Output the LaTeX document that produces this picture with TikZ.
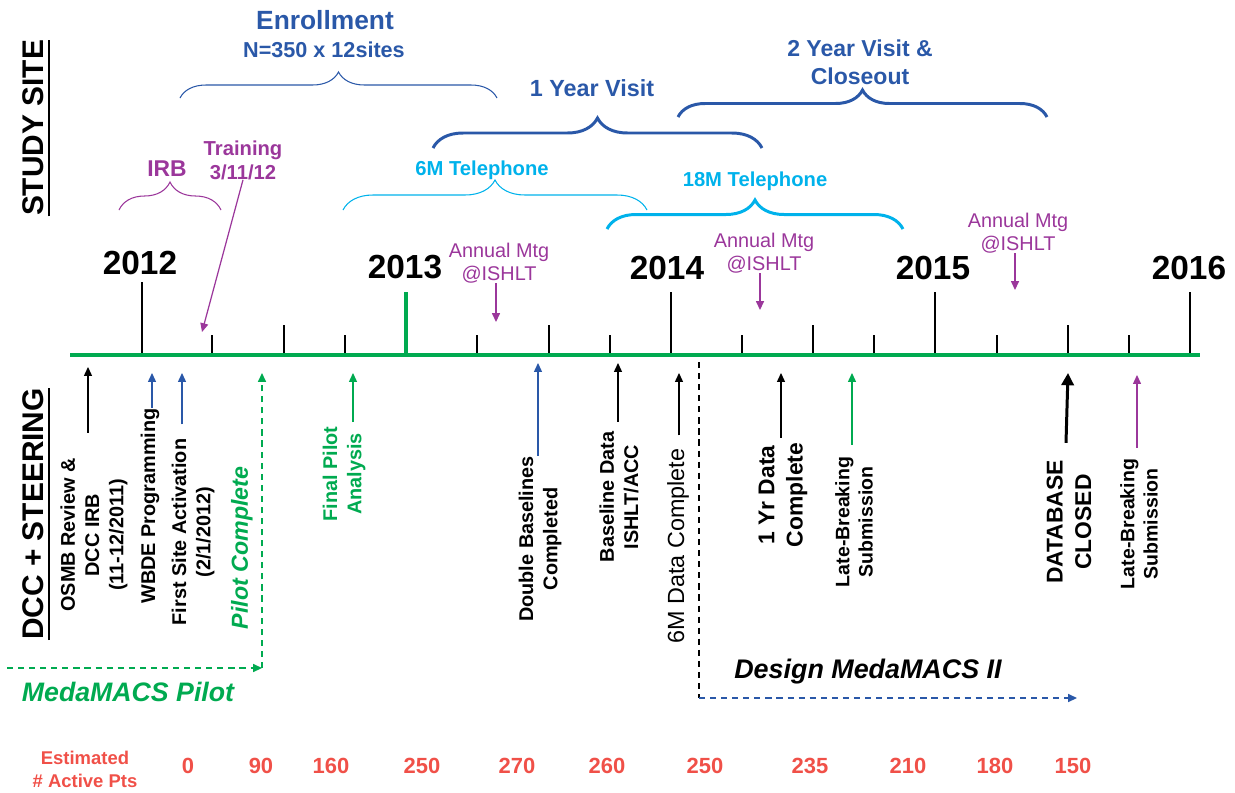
\documentclass[tikz,border=0pt]{standalone}
\usepackage{fontspec}
\setmainfont{Liberation Sans}
\usetikzlibrary{calc}
\usetikzlibrary{arrows.meta}
\usetikzlibrary{decorations.pathreplacing}
\definecolor{tgreen}{RGB}{0,170,80}
\definecolor{dblue}{RGB}{42,88,168}
\definecolor{tcyan}{RGB}{0,178,235}
\definecolor{tpurple}{RGB}{155,55,155}
\definecolor{tred}{RGB}{240,80,72}
\newcommand{\fsz}[2]{\fontsize{#1}{#2}\selectfont}
\tikzstyle{txt}=[inner sep=0pt,align=center]
\tikzstyle{yearlab}=[txt,font=\fsz{19}{22}\bfseries]
\tikzstyle{sidetitle}=[txt,rotate=90,font=\fsz{17}{20}\bfseries]
\tikzstyle{vlab}=[txt,rotate=90,font=\fsz{11.3}{13.8}\bfseries]
\tikzstyle{vbig}=[txt,rotate=90,font=\fsz{13}{16.2}\bfseries]
\tikzstyle{mtg}=[txt,tpurple,font=\fsz{11.3}{13}]
\tikzstyle{phase}=[txt,font=\fsz{11.5}{13.6}\bfseries]
\tikzstyle{ptsnum}=[txt,tred,font=\fsz{12.5}{15}\bfseries]
\tikzstyle{tick}=[draw=black,line width=0.6pt]
\tikzstyle{axisline}=[draw=tgreen,line width=2pt]
\tikzstyle{uline}=[line width=1.5pt]
\tikzstyle{upar}=[->,line width=0.6pt]
\tikzstyle{downar}=[->,line width=0.7pt,tpurple]
\tikzstyle{thinbrace}=[line width=0.6pt]
\tikzstyle{thickbrace}=[line width=1.7pt]
\tikzstyle{dashar}=[line width=0.8pt,dash pattern=on 3.5pt off 2.8pt]
\tikzset{brc/.style={decorate,decoration={brace,amplitude=#1*0.02cm}}}
\begin{document}
\begin{tikzpicture}[x=0.02cm,y=-0.02cm,>={Triangle[length=5pt,width=4.5pt]}]
\useasboundingbox (0,0) rectangle (1235,792);
% side titles
\node[sidetitle] (study) at (33,128) {STUDY SITE};
\draw[uline] ($(study.south west)+(5,0)$) -- ($(study.south east)+(5,0)$);
\node[sidetitle] (dcc) at (33,514) {DCC + STEERING};
\draw[uline] ($(dcc.south west)+(5,0)$) -- ($(dcc.south east)+(5,0)$);
% time axis
\foreach \x in {212,345,477,610,742,874,997,1129}
\draw[tick] (\x,335) -- (\x,355);
\foreach \x in {284,549,813,1068}
\draw[tick] (\x,325) -- (\x,355);
\foreach \x in {671,935,1190}
\draw[tick] (\x,292) -- (\x,355);
\draw[tick] (142,282) -- (142,355);
\draw[tgreen,line width=1.8pt] (406,292) -- (406,355);
\draw[axisline] (70,355) -- (1200,355);
\foreach \yr/\x/\y in {2012/140/263,2013/405/267,2014/667/268,2015/933/268,2016/1189/268}
\node[yearlab] (y\yr) at (\x,\y) {\yr};
% study site
\node[txt,dblue,font=\fsz{15}{18}\bfseries] (enroll) at (325,20) {Enrollment};
\node[txt,dblue,font=\fsz{12.3}{15}\bfseries] (enrolln) at (324,50) {N=350 x 12sites};
\draw[brc=26,dblue,thinbrace] (180,98) -- (497,98);
\node[txt,tpurple,font=\fsz{13}{15}\bfseries] (irb) at (167,169) {IRB};
\draw[brc=28,tpurple,thinbrace] (119,210) -- (221,210);
\node[phase,tpurple] (train) at (243,160) {Training\\3/11/12};
\coordinate (traint) at (202,332);
\draw[downar] (train.south) -- (traint);
\node[phase,tcyan] (tel6) at (482,170) {6M Telephone};
\draw[brc=30,tcyan,thinbrace] (343,210) -- (647,210);
\node[txt,dblue,font=\fsz{13.3}{16}\bfseries] (visit1) at (592,88) {1 Year Visit};
\draw[brc=30,dblue,thickbrace] (433,148) -- (762,148);
\node[phase,tcyan] (tel18) at (755,181) {18M Telephone};
\draw[brc=29,tcyan,thickbrace] (607,229) -- (903,229);
\node[txt,dblue,font=\fsz{13.1}{15.9}\bfseries] (visit2) at (860,62) {2 Year Visit \&\\Closeout};
\draw[brc=27,dblue,thickbrace] (678,117) -- (1047,117);
% annual meetings
\node[mtg] (mtg1) at (499,263) {Annual Mtg\\@ISHLT};
\coordinate (mtg1t) at (496,322);
\draw[downar] (mtg1.south -| mtg1t) -- (mtg1t);
\node[mtg] (mtg2) at (764,253) {Annual Mtg\\@ISHLT};
\coordinate (mtg2t) at (760,310);
\draw[downar] (mtg2.south -| mtg2t) -- (mtg2t);
\node[mtg] (mtg3) at (1018,233) {Annual Mtg\\@ISHLT};
\coordinate (mtg3t) at (1015,290);
\draw[downar] (mtg3.south -| mtg3t) -- (mtg3t);
% dcc + steering
\node[vlab] (osmb) at (94,535) {OSMB Review \&\\DCC IRB\\(11-12/2011)};
\coordinate (osmbt) at (88,367);
\draw[upar] ($(osmbt |- osmb.east)+(0,-25)$) -- (osmbt);
\node[vlab] (wbde) at (150,506) {WBDE Programming};
\coordinate (wbdet) at (152,373);
\draw[upar,dblue] (wbdet |- wbde.east) -- (wbdet);
\node[vlab] (site1) at (193,532) {First Site Activation\\(2/1/2012)};
\coordinate (site1t) at (182,373);
\draw[upar,dblue] ($(site1t |- site1.east)+(0,-14)$) -- (site1t);
\node[txt,rotate=90,tgreen,font=\fsz{13.2}{16}\bfseries\itshape] (pilotc) at (242,548) {Pilot Complete};
\coordinate (pilots) at (7,668);
\coordinate (pilotk) at (262,668);
\coordinate (pilott) at (262,373);
\draw[dashar,tgreen,->] (pilots) -- (pilotk);
\draw[dashar,tgreen,->] (pilotk) -- (pilott);
\node[txt,tgreen,font=\fsz{15.2}{18}\bfseries\itshape] (pilotlab) at (128,692) {MedaMACS Pilot};
\node[vlab,tgreen] (fpa) at (344,474) {Final Pilot\\Analysis};
\coordinate (fpat) at (353,373);
\draw[upar,tgreen] ($(fpat |- fpa.east)+(0,-4)$) -- (fpat);
\node[vlab] (dbl) at (540,539) {Double Baselines\\Completed};
\coordinate (dblt) at (538,363);
\draw[upar,dblue] (dblt |- dbl.east) -- (dblt);
\node[vlab] (bdata) at (619,497) {Baseline Data\\ISHLT/ACC};
\coordinate (bdatat) at (618,363);
\draw[upar] ($(bdatat |- bdata.east)+(0,-10)$) -- (bdatat);
\node[txt,rotate=90,font=\fsz{13.3}{16}] (data6) at (678,546) {6M Data Complete};
\coordinate (data6t) at (679,373);
\draw[upar] ($(data6t |- data6.east)+(0,-13)$) -- (data6t);
\coordinate (dsgna) at (699,362);
\coordinate (dsgnb) at (699,698);
\coordinate (dsgnt) at (1077,698);
\draw[dashar,black] (dsgna) -- (dsgnb);
\draw[dashar,dblue,->] (dsgnb) -- (dsgnt);
\node[txt,font=\fsz{15.3}{18}\bfseries\itshape] (dsgn) at (868,672) {Design MedaMACS II};
\node[vbig] (data1) at (783,495) {1 Yr Data\\Complete};
\coordinate (data1t) at (781,373);
\draw[upar] ($(data1t |- data1.east)+(0,-5)$) -- (data1t);
\node[vlab,font=\fsz{11.1}{13.2}\bfseries] (lbs1) at (854,522) {Late-Breaking\\Submission};
\coordinate (lbs1t) at (852,373);
\draw[upar,tgreen] ($(lbs1t |- lbs1.east)+(0,-12)$) -- (lbs1t);
\node[vbig] (dbc) at (1069,522) {DATABASE\\CLOSED};
\coordinate (dbct) at (1068,373);
\draw[->,line width=1.7pt,>={Triangle[length=7pt,width=7pt]}] ($(dbct |- dbc.east)+(-2,-17)$) -- (dbct);
\node[vlab,font=\fsz{11.1}{13.2}\bfseries] (lbs2) at (1139,524) {Late-Breaking\\Submission};
\coordinate (lbs2t) at (1137,375);
\draw[upar,tpurple] ($(lbs2t |- lbs2.east)+(0,-11)$) -- (lbs2t);
% estimated active patients
\node[txt,tred,font=\fsz{10.5}{13}\bfseries] (est) at (85,769) {Estimated\\\# Active Pts};
\foreach \n/\x [count=\i] in {0/188,90/261,160/331,250/422,270/517,260/607,250/705,235/810,210/908,180/995,150/1073}
\node[ptsnum] (pts\i) at (\x,766) {\n};
\end{tikzpicture}
\end{document}
